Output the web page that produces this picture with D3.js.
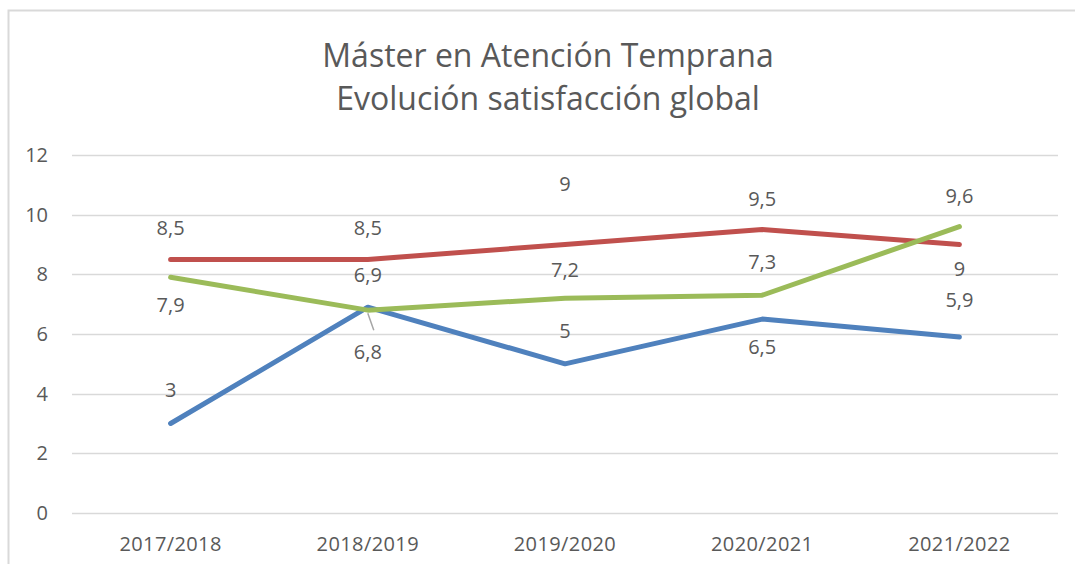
<!DOCTYPE html>
<html>
<head>
<meta charset="utf-8">
<script src="https://cdn.jsdelivr.net/npm/d3@7"></script>
<style>
  body { margin: 0; background: #fff; }
  text { font-family: 'Open Sans', sans-serif; fill: #595959; }
</style>
</head>
<body>
<div id="chart"></div>
<script>
// chart data
var categories = ['2017/2018', '2018/2019', '2019/2020', '2020/2021', '2021/2022']
var blueValues = [3, 6.9, 5, 6.5, 5.9]
var redValues = [8.5, 8.5, 9, 9.5, 9]
var greenValues = [7.9, 6.8, 7.2, 7.3, 9.6]
var yTicks = [0, 2, 4, 6, 8, 10, 12]
var titleLines = ['Máster en Atención Temprana', 'Evolución satisfacción global']

// label offsets (px from the point)
var blueDy = [-34, -32, -33, 28, -37]
var redDy = [-31, -31, -61, -31, 24]
var greenDy = [28, 42, -28, -33, -31]

var width = 1075
var height = 564
var margin = { top: 155, bottom: 51, left: 72, right: 17 }

var svg = d3
  .select('#chart')
  .append('svg')
  .attr('width', width)
  .attr('height', height)

// chart border (right and bottom edges fall outside the picture)
svg.append('path')
  .attr('d', 'M8.5,' + height + 'V10.5H' + width)
  .attr('fill', 'none')
  .attr('stroke', '#d9d9d9')
  .attr('stroke-width', 2)

svg.selectAll('.title')
  .data(titleLines)
  .enter()
  .append('text')
  .attr('class', 'title')
  .attr('x', 548)
  .attr('y', (d, i) => 67 + i * 43)
  .attr('text-anchor', 'middle')
  .attr('font-size', '32px')
  .text(d => d)

var x = d3.scaleBand()
  .domain(categories)
  .range([margin.left, width - margin.right])

var y = d3.scaleLinear()
  .domain([0, 12])
  .range([height - margin.bottom, margin.top])

// gridlines
svg.selectAll('.grid')
  .data(yTicks)
  .enter()
  .append('line')
  .attr('x1', margin.left)
  .attr('x2', width - margin.right)
  .attr('y1', d => Math.round(y(d)) + 0.5)
  .attr('y2', d => Math.round(y(d)) + 0.5)
  .attr('stroke', '#d9d9d9')
  .attr('stroke-width', 1.5)

// y labels
svg.selectAll('.ylab')
  .data(yTicks)
  .enter()
  .append('text')
  .attr('x', 48)
  .attr('y', d => y(d))
  .attr('dy', '0.35em')
  .attr('text-anchor', 'end')
  .attr('font-size', '20px')
  .text(d => d)

// x labels
svg.selectAll('.xlab')
  .data(categories)
  .enter()
  .append('text')
  .attr('x', d => x(d) + x.bandwidth() / 2)
  .attr('y', height - margin.bottom + 31)
  .attr('dy', '0.35em')
  .attr('text-anchor', 'middle')
  .attr('font-size', '20px')
  .attr('letter-spacing', '0.4px')
  .text(d => d)

var series = [
  { values: blueValues, color: '#4F81BD', dy: blueDy },
  { values: redValues, color: '#C0504D', dy: redDy },
  { values: greenValues, color: '#9BBB59', dy: greenDy }
]

var cx = (d, i) => x(categories[i]) + x.bandwidth() / 2

var line = d3.line()
  .x(cx)
  .y(d => y(d))

series.forEach(s => {
  svg.append('path')
    .datum(s.values)
    .attr('d', line)
    .attr('fill', 'none')
    .attr('stroke', s.color)
    .attr('stroke-width', 5)
    .attr('stroke-linejoin', 'round')
    .attr('stroke-linecap', 'round')
})

// leader line for the 6,8 label
svg.append('line')
  .attr('x1', cx(0, 1))
  .attr('y1', y(greenValues[1]) + 3)
  .attr('x2', cx(0, 1) + 6)
  .attr('y2', y(greenValues[1]) + 20)
  .attr('stroke', '#a6a6a6')
  .attr('stroke-width', 1.5)

// data labels
series.forEach(s => {
  svg.selectAll(null)
    .data(s.values)
    .enter()
    .append('text')
    .attr('x', cx)
    .attr('y', (d, i) => y(d) + s.dy[i])
    .attr('dy', '0.35em')
    .attr('text-anchor', 'middle')
    .attr('font-size', '20px')
    .text(d => String(d).replace('.', ','))
})
</script>
</body>
</html>
